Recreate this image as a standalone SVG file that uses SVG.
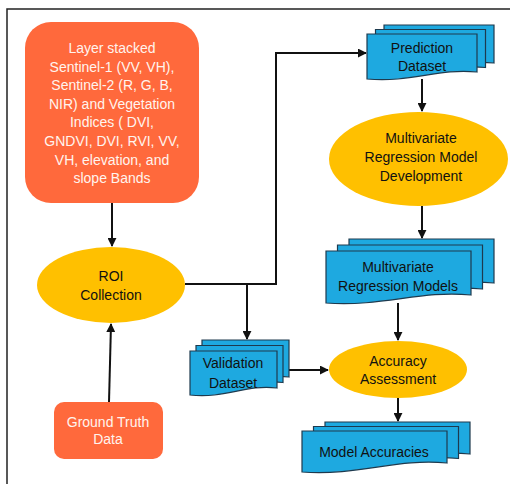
<svg xmlns="http://www.w3.org/2000/svg" width="510" height="484" viewBox="0 0 510 484">
<style>
.t{font-family:"Liberation Sans",Arial,sans-serif;font-size:14px;text-anchor:middle;fill:#111}
.w{fill:#fff4ee}
.org{fill:#FF693C}
.yel{fill:#FFC000}
.doc{fill:#1EA9E0;stroke:#1E3A4E;stroke-width:1.2}
.ln{fill:none;stroke:#111;stroke-width:2}
</style>
<defs>
<marker id="ah" viewBox="0 0 10 10" refX="9" refY="5" markerWidth="4.5" markerHeight="4.5" orient="auto" markerUnits="strokeWidth">
<path d="M0,0 L10,5 L0,10 Z" fill="#111"/>
</marker>
</defs>
<rect width="510" height="484" fill="#fff"/>
<path d="M7,484 V9 H510" fill="none" stroke="#222" stroke-width="1.5"/>

<g id="connectors">
<line class="ln" x1="112" y1="203" x2="112" y2="246" marker-end="url(#ah)"/>
<line class="ln" x1="109" y1="402" x2="111" y2="324" marker-end="url(#ah)"/>
<polyline class="ln" points="185,284 276,284 276,53 366,53" marker-end="url(#ah)"/>
<line class="ln" x1="247" y1="284" x2="247" y2="339" marker-end="url(#ah)"/>
<line class="ln" x1="422" y1="79" x2="422" y2="111" marker-end="url(#ah)"/>
<line class="ln" x1="422" y1="206" x2="422" y2="238" marker-end="url(#ah)"/>
<line class="ln" x1="398" y1="303" x2="398" y2="340" marker-end="url(#ah)"/>
<line class="ln" x1="289" y1="370" x2="328" y2="370" marker-end="url(#ah)"/>
<line class="ln" x1="398" y1="398" x2="398" y2="421" marker-end="url(#ah)"/>
</g>

<g id="layer-stack">
<rect class="org" x="25" y="22" width="174" height="181" rx="26"/>
<text class="t w" x="112" y="53">Layer stacked</text>
<text class="t w" x="112" y="71.6">Sentinel-1 (VV, VH),</text>
<text class="t w" x="112" y="90.2">Sentinel-2 (R, G, B,</text>
<text class="t w" x="112" y="108.8">NIR) and Vegetation</text>
<text class="t w" x="112" y="127.4">Indices ( DVI,</text>
<text class="t w" x="112" y="146">GNDVI, DVI, RVI, VV,</text>
<text class="t w" x="112" y="164.6">VH, elevation, and</text>
<text class="t w" x="112" y="183.2">slope Bands</text>
</g>

<g id="roi">
<ellipse class="yel" cx="111" cy="285" rx="74" ry="38"/>
<text class="t" x="111" y="281">ROI</text>
<text class="t" x="111" y="300">Collection</text>
</g>

<g id="ground-truth">
<rect class="org" x="54" y="402" width="109" height="57" rx="10"/>
<text class="t w" x="108" y="427">Ground Truth</text>
<text class="t w" x="108" y="444">Data</text>
</g>

<g id="prediction">
<path class="doc" transform="translate(17,-9)" d="M367,34 H477 V72 C438,68 411,83 367,79 Z"/>
<path class="doc" transform="translate(8.5,-4.5)" d="M367,34 H477 V72 C438,68 411,83 367,79 Z"/>
<path class="doc" d="M367,34 H477 V72 C438,68 411,83 367,79 Z"/>
<text class="t" x="422" y="53">Prediction</text>
<text class="t" x="422" y="71">Dataset</text>
</g>

<g id="mrmd">
<ellipse class="yel" cx="418.5" cy="159" rx="89.5" ry="47"/>
<text class="t" x="421" y="143">Multivariate</text>
<text class="t" x="421" y="162">Regression Model</text>
<text class="t" x="421" y="181">Development</text>
</g>

<g id="models">
<path class="doc" transform="translate(23,-12)" d="M326,251 H471 V295 C420,290 384,307 326,303 Z"/>
<path class="doc" transform="translate(11.5,-6)" d="M326,251 H471 V295 C420,290 384,307 326,303 Z"/>
<path class="doc" d="M326,251 H471 V295 C420,290 384,307 326,303 Z"/>
<text class="t" x="398" y="272">Multivariate</text>
<text class="t" x="398" y="291">Regression Models</text>
</g>

<g id="validation">
<path class="doc" transform="translate(12,-11)" d="M190,351 H277 V388 C246,384 225,399 190,395 Z"/>
<path class="doc" transform="translate(6,-5.5)" d="M190,351 H277 V388 C246,384 225,399 190,395 Z"/>
<path class="doc" d="M190,351 H277 V388 C246,384 225,399 190,395 Z"/>
<text class="t" x="233" y="368">Validation</text>
<text class="t" x="233" y="388">Dataset</text>
</g>

<g id="accuracy">
<ellipse class="yel" cx="398" cy="369.5" rx="69" ry="28.5"/>
<text class="t" x="398" y="366">Accuracy</text>
<text class="t" x="398" y="384">Assessment</text>
</g>

<g id="model-accuracies">
<path class="doc" transform="translate(23,-9)" d="M302,431 H447 V463 C396,458 360,476 302,472 Z"/>
<path class="doc" transform="translate(11.5,-4.5)" d="M302,431 H447 V463 C396,458 360,476 302,472 Z"/>
<path class="doc" d="M302,431 H447 V463 C396,458 360,476 302,472 Z"/>
<text class="t" x="374" y="457">Model Accuracies</text>
</g>
</svg>
